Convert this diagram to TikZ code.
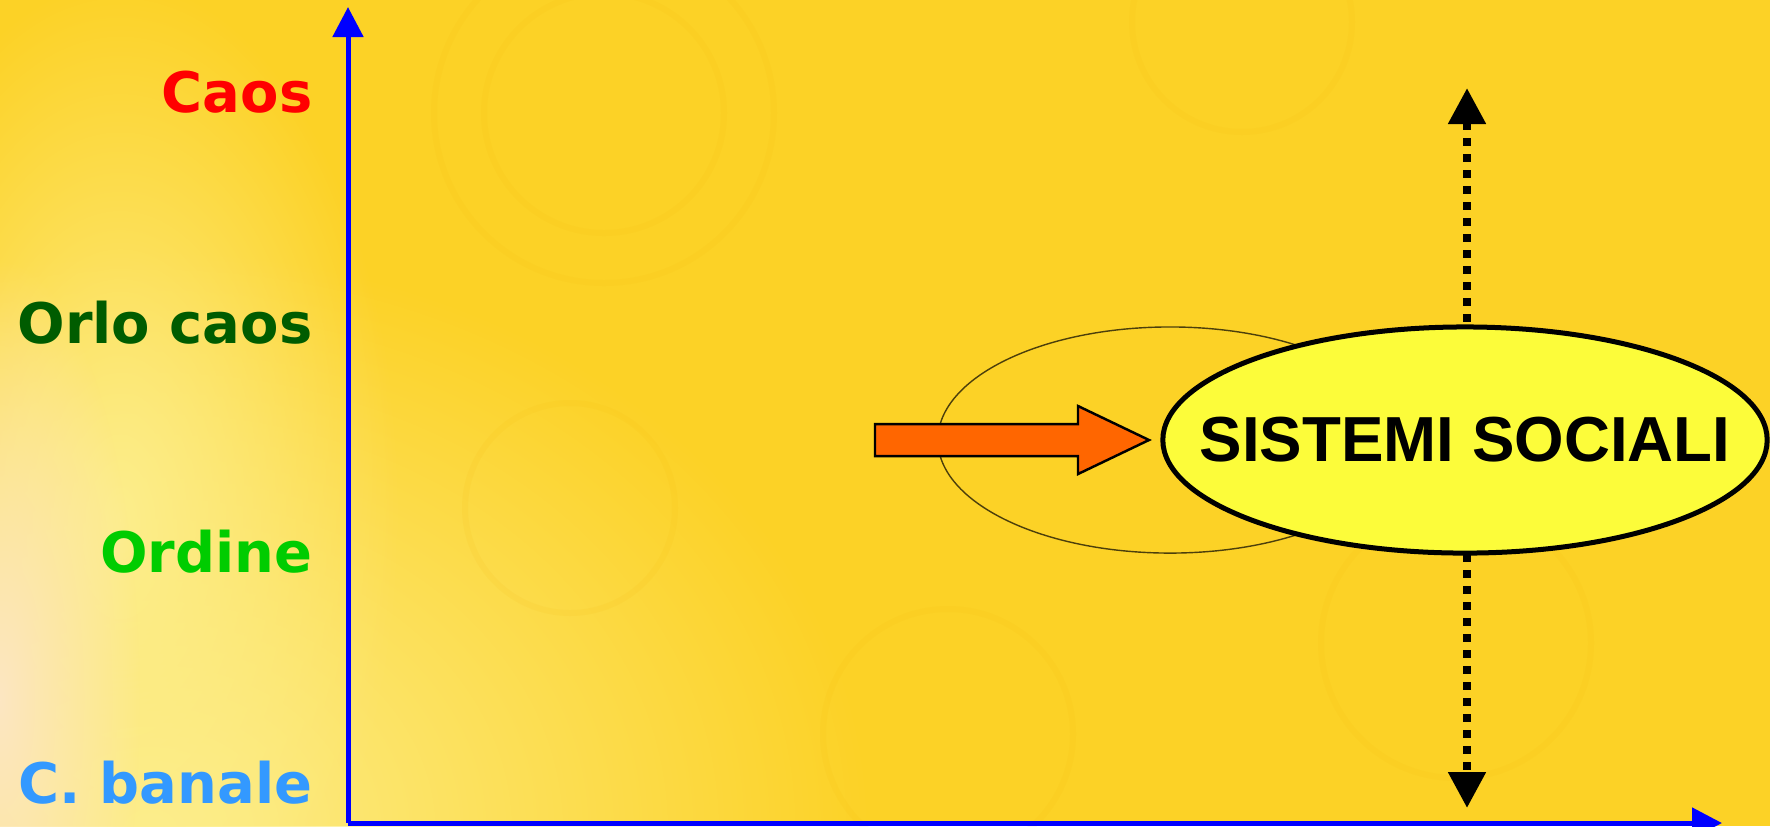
\documentclass[tikz,border=0pt]{standalone}
\usepackage{fontspec}
\usepackage{tikz}
\usetikzlibrary{arrows.meta,shapes.geometric,fadings}
\newfontfamily\lblfont{DejaVu Sans}
\newfontfamily\boxfont{Liberation Sans}
\definecolor{bggold}{HTML}{FCD226}
\definecolor{bglight}{HTML}{FDEE8C}
\definecolor{bgcream}{HTML}{FDE6C2}
\definecolor{ringcol}{HTML}{F2B000}
\definecolor{caosred}{HTML}{FF0000}
\definecolor{orlogreen}{HTML}{005C00}
\definecolor{ordgreen}{HTML}{00CC00}
\definecolor{banblue}{HTML}{3399FF}
\definecolor{sysyel}{HTML}{FCFC3A}
\definecolor{pushorange}{HTML}{FF6600}
\tikzfading[name=softspot,inner color=transparent!0,outer color=transparent!100]

\begin{document}
\begin{tikzpicture}[x=0.01cm,y=-0.01cm,
  axis/.style={draw=blue,line width=0.05cm,-{Triangle[width=0.3cm,length=0.3cm]}},
  level/.style={anchor=base east,inner sep=0pt,font=\lblfont\bfseries\fontsize{15.9pt}{18pt}\selectfont},
  ring/.style={draw=ringcol,line width=0.06cm,opacity=0.08},
  ghost/.style={ellipse,draw=black!70!bggold,line width=0.4pt,minimum width=4.64cm,minimum height=2.26cm,inner sep=0pt},
  sysbox/.style={ellipse,draw,fill=sysyel,line width=0.05cm,minimum width=6.04cm,minimum height=2.26cm,inner sep=0pt,
    font=\boxfont\bfseries\fontsize{18.1pt}{20pt}\selectfont},
  push/.style={draw,fill=pushorange,line width=0.7pt,line join=miter},
  spanline/.style={draw,line width=0.08cm,dash pattern=on 0.08cm off 0.08cm,
    {Triangle[width=0.36cm,length=0.36cm]}-{Triangle[width=0.36cm,length=0.36cm]}}]
\useasboundingbox (0,0) rectangle (1770,826);
\clip (0,0) rectangle (1770,826);
\fill[bggold] (0,0) rectangle (1770,826);
\fill[bglight,path fading=softspot] (150,830) ellipse (720 and 580);
\fill[bglight,path fading=softspot] (120,520) ellipse (280 and 540);
\fill[bgcream,path fading=softspot] (0,700) ellipse (140 and 440);
\draw[ring] (604,113) circle (120);
\draw[ring] (604,113) circle (170);
\draw[ring] (570,508) circle (105);
\draw[ring] (948,734) circle (125);
\draw[ring] (1456,643) circle (135);
\draw[ring] (1242,22) circle (110);

\coordinate (origin) at (348,823);
\coordinate (ytip) at (348,7);
\coordinate (xtip) at (1722,823);
\draw[axis] (origin) -- (ytip);
\draw[axis] (origin) -- (xtip);

\node[level,text=caosred] (caos) at (313,112) {Caos};
\node[level,text=orlogreen] (orlo) at (313,343) {Orlo caos};
\node[level,text=ordgreen] (ordine) at (313,572) {Ordine};
\node[level,text=banblue] (banale) at (313,803) {C. banale};

\node[ghost] (prev) at (1170,440) {};
\coordinate (rtop) at (1467,88);
\coordinate (rbot) at (1467,808);
\draw[spanline] (rtop) -- (rbot);
\node[sysbox] (soc) at (1465,440) {\makebox[0pt]{SISTEMI SOCIALI}};

\draw[push] (875,424) -- (1078,424) -- (1078,406) -- (1149,440) -- (1078,474) -- (1078,456) -- (875,456) -- cycle;
\end{tikzpicture}
\end{document}
